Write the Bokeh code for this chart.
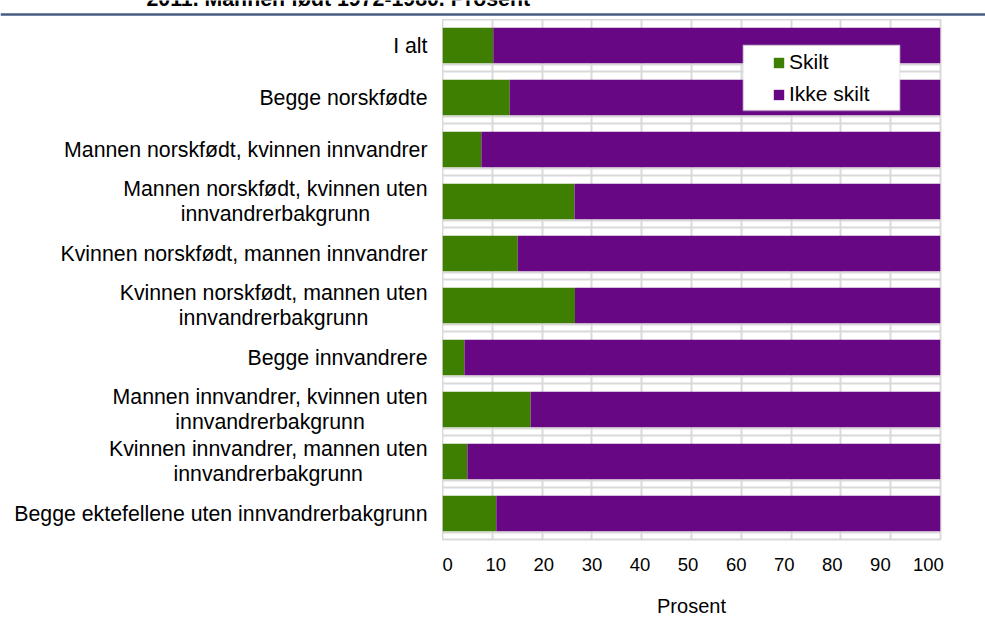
from bokeh.plotting import figure
from bokeh.models import (ColumnDataSource, FactorRange, Range1d, Legend, LegendItem,
                          BoxAnnotation, Label, LinearAxis, FixedTicker, Grid)
from bokeh.layouts import column, row
from bokeh.core.properties import value
from bokeh.embed import file_html
from bokeh.resources import INLINE

# ---- data ----
categories = [
    "I alt",
    "Begge norskfødte",
    "Mannen norskfødt, kvinnen innvandrer",
    "Mannen norskfødt, kvinnen uten\ninnvandrerbakgrunn",
    "Kvinnen norskfødt, mannen innvandrer",
    "Kvinnen norskfødt, mannen uten\ninnvandrerbakgrunn",
    "Begge innvandrere",
    "Mannen innvandrer, kvinnen uten\ninnvandrerbakgrunn",
    "Kvinnen innvandrer, mannen uten\ninnvandrerbakgrunn",
    "Begge ektefellene uten innvandrerbakgrunn",
]
skilt = [10.2, 13.5, 7.8, 26.5, 15.1, 26.6, 4.4, 17.7, 5.0, 10.8]
ikke_skilt = [89.8, 86.5, 92.2, 73.5, 84.9, 73.4, 95.6, 82.3, 95.0, 89.2]
series_names = ["Skilt", "Ikke skilt"]
x_ticks = [0, 10, 20, 30, 40, 50, 60, 70, 80, 90, 100]
title_text = "2011. Mannen født 1972-1980. Prosent"
x_label = "Prosent"

# ---- style ----
FONT = "Liberation Sans"
GREEN = "#3e7e00"
PURPLE = "#670784"
GRID = "#d9d9d9"
BLUE = "#475b82"

src = ColumnDataSource(dict(cat=categories, skilt=skilt, ikke=ikke_skilt))
yr = FactorRange(factors=list(reversed(categories)), range_padding=0)

# top strip: rule and (clipped, as in the source page) title
top = figure(width=985, height=19, x_range=Range1d(0, 985), y_range=Range1d(0, 19),
             min_border=0, x_axis_location=None, y_axis_location=None,
             outline_line_color=None, output_backend="svg", toolbar_location=None)
top.grid.visible = False
top.add_layout(BoxAnnotation(bottom=3.7, top=6.3, fill_color=BLUE, fill_alpha=1,
                             line_color=None))
top.add_layout(Label(x=146, y=21, text=title_text, text_font=FONT,
                     text_font_style="bold", text_font_size="21.3px",
                     text_baseline="alphabetic", text_color="#000000"))

# category labels
lab = figure(width=442, height=603, x_range=Range1d(0, 442), y_range=yr,
             min_border_left=0, min_border_right=0, min_border_top=0,
             min_border_bottom=83, x_axis_location=None, y_axis_location=None,
             outline_line_color=None, output_backend="svg", toolbar_location=None)
lab.grid.visible = False
lab.text(x=427, y="cat", text="cat", source=src, anchor="center_right",
         text_align="center", text_baseline="middle",
         text_font=value(FONT), text_font_size="21.3px", text_color="#000000",
         text_line_height=1.03)

# main chart
p = figure(width=543, height=603, x_range=Range1d(0, 100), y_range=yr,
           min_border_left=0, min_border_right=45, min_border_top=0,
           min_border_bottom=83, x_axis_location=None, y_axis_location=None,
           outline_line_color=GRID, outline_line_width=2,
           output_backend="svg", toolbar_location=None)
p.grid.visible = False

p.add_layout(Grid(dimension=0, ticker=FixedTicker(ticks=x_ticks),
                  grid_line_color=GRID, grid_line_width=2))
p.add_layout(Grid(dimension=1, ticker=FixedTicker(ticks=[1, 2, 3, 4, 5, 6, 7, 8, 9]),
                  grid_line_color=GRID, grid_line_width=2))
p.add_layout(Grid(dimension=1,
                  ticker=FixedTicker(ticks=[k + 0.13 for k in range(10)]),
                  grid_line_color=GRID, grid_line_width=2))

rends = p.hbar_stack(["skilt", "ikke"], y="cat", height=0.68, source=src,
                     fill_color=[GREEN, PURPLE], line_color=None)

p.extra_x_ranges = {"lbl": Range1d(-1.08, 102.5)}
ax = LinearAxis(x_range_name="lbl", ticker=FixedTicker(ticks=x_ticks),
                axis_label=x_label, axis_line_color=None,
                major_tick_line_color=None, minor_tick_line_color=None,
                major_tick_out=0, major_tick_in=0, major_label_standoff=18,
                axis_label_standoff=21,
                major_label_text_font=FONT, major_label_text_font_size="18.5px",
                major_label_text_color="#000000",
                axis_label_text_font=FONT, axis_label_text_font_size="20px",
                axis_label_text_font_style="normal", axis_label_text_color="#000000")
p.add_layout(ax, "below")

p.add_layout(BoxAnnotation(left=60.38, right=91.83, bottom=8.25, top=9.506,
                           fill_color="white", fill_alpha=1,
                           line_color="#d0d0d0", line_width=2))
legend = Legend(items=[LegendItem(label=series_names[0], renderers=[rends[0]]),
                       LegendItem(label=series_names[1], renderers=[rends[1]])],
                location=(330, 433), padding=0, margin=0, spacing=8,
                glyph_width=13, glyph_height=13, label_standoff=4,
                label_text_font=FONT, label_text_font_size="21px",
                label_text_color="#000000",
                border_line_color=None, background_fill_alpha=0)
p.add_layout(legend)

layout = column(top, row(lab, p))
open("out.html", "w").write(file_html(layout, INLINE))
